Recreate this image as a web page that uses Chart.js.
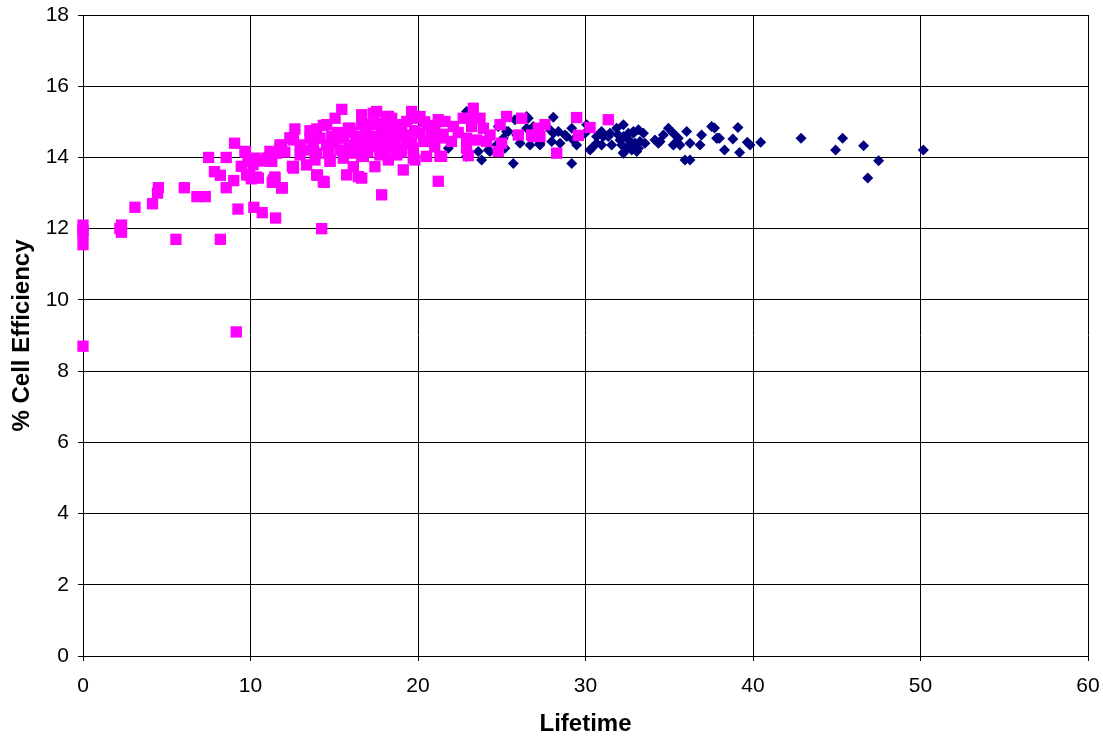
<!DOCTYPE html>
<html>
<head>
<meta charset="utf-8">
<script src="https://cdn.jsdelivr.net/npm/chart.js@4"></script>
<style>
html,body{margin:0;padding:0;background:#fff;}
canvas{display:block;}
</style>
</head>
<body>
<canvas id="c" width="1103" height="741"></canvas>
<script>
const xTicks = [0, 10, 20, 30, 40, 50, 60];
const yTicks = [0, 2, 4, 6, 8, 10, 12, 14, 16, 18];

const pinkX = [0,0,0,0,0,2.3,2.2,2.3,3.1,4.15,4.45,4.5,5.55,6.05,6.8,7.3,7.5,7.85,8.2,8.2,8.55,8.55,9.0,9.05,9.15,9.25,9.7,9.45,9.95,10.05,10.35,9.85,10.15,10.2,10.7,11.5,11.45,11.3,11.9,10.75,11.15,11.35,11.75,12.05,12.5,12.65,12.35,14.25,14.0,14.4,15.45,15.05,14.35,13.95,13.55,
14.55,13.75,15.94,12.56,13.55,14.15,14.85,15.54,11.76,11.16,12.96,13.25,13.95,14.65,15.34,16.14,12.96,11.27,12.56,13.35,14.75,15.54,13.95,14.35,15.74,11.46,11.86,16.14,
17.53,16.64,18.23,19.62,19.92,21.21,21.01,16.64,17.24,17.83,18.43,19.03,16.84,17.43,18.23,18.83,19.42,20.12,16.54,17.13,17.73,18.33,19.03,19.72,20.32,20.82,16.64,18.23,19.82,20.51,21.31,17.43,19.12,16.44,21.21,17.83,
17.33,18.13,18.43,20.12,15.84,16.94,17.73,18.73,19.33,9.67,10.27,10.97,11.56,11.86,12.56,13.75,14.55,15.94,9.77,10.47,12.56,11.36,16.64,16.74,17.73,18.73,19.72,14.75,13.85,17.33,18.33,19.33,16.54,15.54,
23.3,22.7,23.7,23.2,21.61,22.11,23.2,23.9,22.9,23.5,24.3,22.9,24.9,25.29,26.19,25.99,24.99,24.79,21.41,24.1,23.0,
29.47,31.36,30.27,29.57,28.28,27.58,27.18,26.78,26.88,27.28,
21.5,22.0,22.4,21.0,20.6,20.4,20.8,21.4,
15.2,16.0,16.9,17.9,18.9,19.8,15.0,16.3,17.6,18.6,19.6,15.6,16.4,17.0,18.0,19.0];
const pinkY = [8.7,12.1,11.95,11.85,11.55,12.1,12.0,11.9,12.6,12.7,13.0,13.15,11.7,13.15,12.9,12.9,14.0,13.6,13.5,11.7,13.15,14.0,13.35,14.4,9.1,12.55,14.15,13.75,13.5,13.4,13.45,13.9,13.8,12.6,12.45,12.3,13.45,13.3,13.15,13.9,13.9,14.15,14.25,14.15,13.75,14.8,14.55,12.0,13.5,13.3,15.35,15.1,14.9,14.8,14.75,
14.92,14.73,14.82,14.54,14.54,14.54,14.59,14.54,14.35,14.17,14.35,14.21,14.12,14.12,14.21,14.12,14.07,13.89,13.74,13.79,13.89,13.98,13.51,13.33,13.51,13.42,13.14,13.74,
15.29,15.2,15.15,15.29,15.1,15.06,14.82,14.92,14.92,14.87,14.87,14.92,14.54,14.59,14.54,14.59,14.63,14.68,14.26,14.31,14.26,14.26,14.26,14.26,14.45,14.45,14.03,13.93,13.93,14.03,14.03,13.74,13.65,13.46,13.33,12.95,
15.24,15.15,15.1,15.15,14.82,14.87,14.96,14.87,15.01,14.17,13.98,13.98,14.12,14.35,14.49,14.26,14.35,14.35,13.51,13.42,13.7,13.37,13.42,14.03,14.07,14.07,13.98,13.93,13.93,14.49,14.59,14.49,14.59,14.59,
15.38,15.1,15.1,15.1,15.01,14.87,14.87,14.82,14.54,14.49,14.63,14.26,14.92,15.15,15.1,14.63,14.4,14.17,14.03,14.45,14.05,
15.12,15.06,14.84,14.62,14.12,14.92,14.82,14.63,14.59,14.59,
14.65,14.45,14.7,14.3,14.9,15.0,14.7,14.55,
14.7,14.7,14.7,14.7,14.7,14.75,14.4,14.45,14.4,14.4,14.4,14.15,14.15,14.15,14.15,14.15];

const navyX = [22.9,21.81,22.9,23.8,23.6,24.3,24.79,25.39,25.69,26.09,25.09,25.79,26.49,24.69,24.9,25.29,25.89,24.2,25.19,26.49,
26.58,28.08,26.88,27.88,28.38,28.78,29.18,27.98,28.48,27.28,29.47,30.07,29.97,30.37,30.66,30.96,31.36,30.96,31.56,29.18,
28.08,28.88,29.27,30.27,30.66,31.06,31.46,31.86,32.06,32.46,32.86,33.06,32.26,26.69,27.28,
32.26,31.96,32.26,32.56,32.86,33.16,33.46,32.66,32.96,33.25,33.55,32.16,32.46,32.76,32.26,33.16,34.15,34.65,34.95,35.24,35.54,35.64,36.04,36.24,36.93,36.84,37.53,37.83,35.94,36.24,34.45,35.34,34.35,35.24,
37.7,37.9,38.0,39.1,38.8,38.3,39.2,39.66,39.82,40.46,42.87,44.93,45.35,46.6,47.5,46.85,50.17];
const navyY = [15.29,14.26,14.03,13.93,14.17,14.17,14.87,14.73,13.83,14.4,14.54,15.06,14.82,14.35,14.4,14.73,14.63,14.21,14.26,15.15,
15.1,15.13,14.87,14.78,14.73,14.63,14.82,14.45,14.4,14.35,14.35,14.92,14.68,14.26,14.59,14.73,14.59,14.35,14.35,13.83,
14.68,14.59,14.49,14.21,14.4,14.59,14.68,14.82,14.49,14.54,14.68,14.17,14.12,14.35,14.4,
14.92,14.63,14.59,14.68,14.73,14.78,14.68,14.45,14.4,14.45,14.4,14.35,14.26,14.21,14.14,14.26,14.49,14.63,14.82,14.68,14.54,14.35,14.73,14.4,14.63,14.35,14.87,14.54,13.93,13.93,14.45,14.4,14.4,14.35,
14.83,14.54,14.54,14.84,14.52,14.21,14.14,14.43,14.35,14.43,14.54,14.21,14.54,14.33,13.91,13.42,14.21];

const pts = (xs, ys) => xs.map((x, i) => ({x: x, y: ys[i]}));

const FONT = "'Liberation Sans', Arial, sans-serif";

new Chart(document.getElementById('c'), {
  type: 'scatter',
  data: {
    datasets: [
      {
        label: 'pink',
        data: pts(pinkX, pinkY),
        pointStyle: 'rect',
        pointRadius: 8,
        pointHoverRadius: 8,
        backgroundColor: '#FF00FF',
        borderColor: '#FF00FF',
        borderWidth: 0,
        clip: false
      },
      {
        label: 'navy',
        data: pts(navyX, navyY),
        pointStyle: 'rectRot',
        pointRadius: 5.5,
        pointHoverRadius: 5.5,
        backgroundColor: '#000080',
        borderColor: '#000080',
        borderWidth: 0,
        clip: false
      }
    ]
  },
  options: {
    responsive: false,
    animation: false,
    events: [],
    layout: {padding: {top: 15, right: 15, bottom: 0, left: 0}},
    plugins: {legend: {display: false}, tooltip: {enabled: false}},
    scales: {
      x: {
        type: 'linear',
        min: 0, max: 60,
        afterBuildTicks: (s) => { s.ticks = xTicks.map(v => ({value: v})); },
        afterFit: (s) => { s.height = 85; s.paddingLeft = 0; s.paddingRight = 0; },
        ticks: {color: '#000', font: {family: FONT, size: 21}, padding: 13},
        grid: {color: '#000', lineWidth: 1, tickLength: 5, tickColor: '#000'},
        border: {color: '#000', width: 1},
        title: {display: true, text: 'Lifetime', color: '#000', font: {family: FONT, size: 24, weight: 'bold'}, padding: {top: 0, bottom: 2}}
      },
      y: {
        type: 'linear',
        min: 0, max: 18,
        afterBuildTicks: (s) => { s.ticks = yTicks.map(v => ({value: v})); },
        afterFit: (s) => { s.width = 83; s.paddingTop = 0; s.paddingBottom = 0; },
        ticks: {color: '#000', font: {family: FONT, size: 21}, padding: 9},
        grid: {color: '#000', lineWidth: 1, tickLength: 5, tickColor: '#000'},
        border: {color: '#000', width: 1},
        title: {display: true, text: '% Cell Efficiency', color: '#000', font: {family: FONT, size: 24, weight: 'bold'}, padding: {top: 8, bottom: 0}}
      }
    }
  }
});
</script>
</body>
</html>
